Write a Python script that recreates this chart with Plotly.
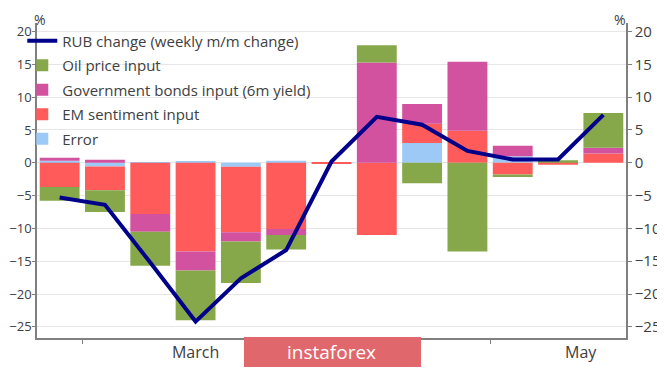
import plotly.graph_objects as go

weeks = list(range(13))
rub_change = [-5.3, -6.4, -15.2, -24.2, -17.6, -13.3, 0.2, 7.0, 5.8, 1.8, 0.5, 0.5, 7.3]

# contributions (positive and negative parts stacked relative to zero)
error_input = [0.3, -0.55, 0.1, 0.2, -0.6, 0.3, 0.0, 0.0, 3.0, 0.0, 1.0, 0.0, 0.0]
em_input = [-3.7, -3.65, -7.8, -13.5, -10.0, -10.1, -0.2, -11.0, 2.95, 4.9, -1.8, -0.3, 1.4]
gov_input = [0.45, 0.45, -2.7, -2.9, -1.4, -0.9, 0.0, 15.3, 3.0, 10.5, 1.6, 0.0, 0.9]
oil_input = [-2.1, -3.3, -5.2, -7.6, -6.3, -2.2, 0.0, 2.6, -3.1, -13.5, -0.35, 0.4, 5.3]

month_labels = ["March", "May"]
month_label_pos = [3, 11.5]
month_boundaries = [0.5, 5.5, 9.5]
y_ticks = [20, 15, 10, 5, 0, -5, -10, -15, -20, -25]

FONT = "Open Sans"
TXT = "#404040"

# the page body has an 8px margin, so the figure is sized to fit the window
W, H = 657, 360
ML, MR, MT, MB = 29, 39, 15, 30
PW, PH = W - ML - MR, H - MT - MB

fig = go.Figure()
bar_specs = [
    ("Error", error_input, "#9dc9f7", "g5", 5),
    ("EM sentiment input", em_input, "#ff5b5b", "g4", 4),
    ("Government bonds input (6m yield)", gov_input, "#d2529f", "g3", 3),
    ("Oil price input", oil_input, "#86a84a", "g2", 2),
]
for name, vals, col, grp, rank in bar_specs:
    fig.add_trace(go.Bar(x=weeks, y=vals, name=name, marker_color=col,
                         marker_line_width=0, legendgroup=grp, legendrank=rank))

fig.add_trace(go.Scatter(x=weeks, y=rub_change, mode="lines",
                         name="RUB change (weekly m/m change)",
                         line=dict(color="#00008b", width=4), legendgroup="g1",
                         legendrank=1))

# invisible trace to activate right axis
fig.add_trace(go.Scatter(x=[weeks[0]], y=[0], yaxis="y2", mode="markers",
                         marker=dict(opacity=0), showlegend=False, hoverinfo="skip"))
# invisible trace so month labels axis renders
fig.add_trace(go.Scatter(x=[0], y=[0], xaxis="x2", mode="markers",
                         marker=dict(opacity=0), showlegend=False, hoverinfo="skip"))

yrange = [-26.7, 21.3]
TICKFONT = dict(size=13, color=TXT, family=FONT)
fig.update_layout(
    width=W, height=H,
    margin=dict(l=ML, r=MR, t=MT, b=MB, autoexpand=False),
    paper_bgcolor="white", plot_bgcolor="white",
    barmode="relative", bargap=0.12,
    font=dict(family=FONT, color=TXT, size=15),
    xaxis=dict(range=[-0.5, 12.5], tickvals=month_boundaries, ticktext=["", "", ""],
               ticks="outside", ticklen=4, tickcolor="#808080",
               showline=True, linecolor="#808080", linewidth=1.5,
               showgrid=False, zeroline=False, fixedrange=True),
    xaxis2=dict(range=[-0.5, 12.5], overlaying="x", side="bottom",
                tickvals=month_label_pos, ticktext=month_labels, ticks="",
                ticklabelstandoff=3,
                showline=False, showgrid=False, zeroline=False,
                tickfont=dict(size=16, color=TXT, family=FONT)),
    yaxis=dict(range=yrange, tickvals=y_ticks, ticks="outside", ticklen=3,
               ticklabelstandoff=-2,
               tickcolor="#808080", showline=True, linecolor="#808080", linewidth=1.5,
               gridcolor="#e6e6e6", gridwidth=1, zeroline=False,
               tickfont=TICKFONT),
    yaxis2=dict(range=yrange, tickvals=y_ticks, overlaying="y", side="right",
                ticks="outside", ticklen=4, tickcolor="#808080",
                showline=True, linecolor="#808080", linewidth=1.5,
                showgrid=False, zeroline=False,
                tickfont=dict(size=15, color=TXT, family=FONT)),
    legend=dict(x=-0.025, y=0.995, xanchor="left", yanchor="top",
                bgcolor="rgba(0,0,0,0)", traceorder="grouped",
                tracegroupgap=2, font=dict(size=15, color=TXT, family=FONT)),
    showlegend=True,
)

fig.add_annotation(text="%", xref="paper", yref="paper", x=(32 - ML) / PW,
                   y=1 + MT / PH, xanchor="center", yanchor="top", showarrow=False,
                   font=dict(size=14, color=TXT, family=FONT))
fig.add_annotation(text="%", xref="paper", yref="paper", x=(612 - ML) / PW,
                   y=1 + MT / PH, xanchor="center", yanchor="top", showarrow=False,
                   font=dict(size=14, color=TXT, family=FONT))

# watermark
fig.add_shape(type="rect", xref="paper", yref="paper",
              x0=(236 - ML) / PW, x1=(413 - ML) / PW,
              y0=-29 / PH, y1=1 / PH,
              fillcolor="#e0686c", line=dict(width=0), layer="above")
fig.add_annotation(text="instaforex", xref="paper", yref="paper",
                   x=(323 - ML) / PW, y=-14 / PH, xanchor="center", yanchor="middle",
                   showarrow=False, font=dict(size=19, color="white", family=FONT))

fig.write_html("out.html")
